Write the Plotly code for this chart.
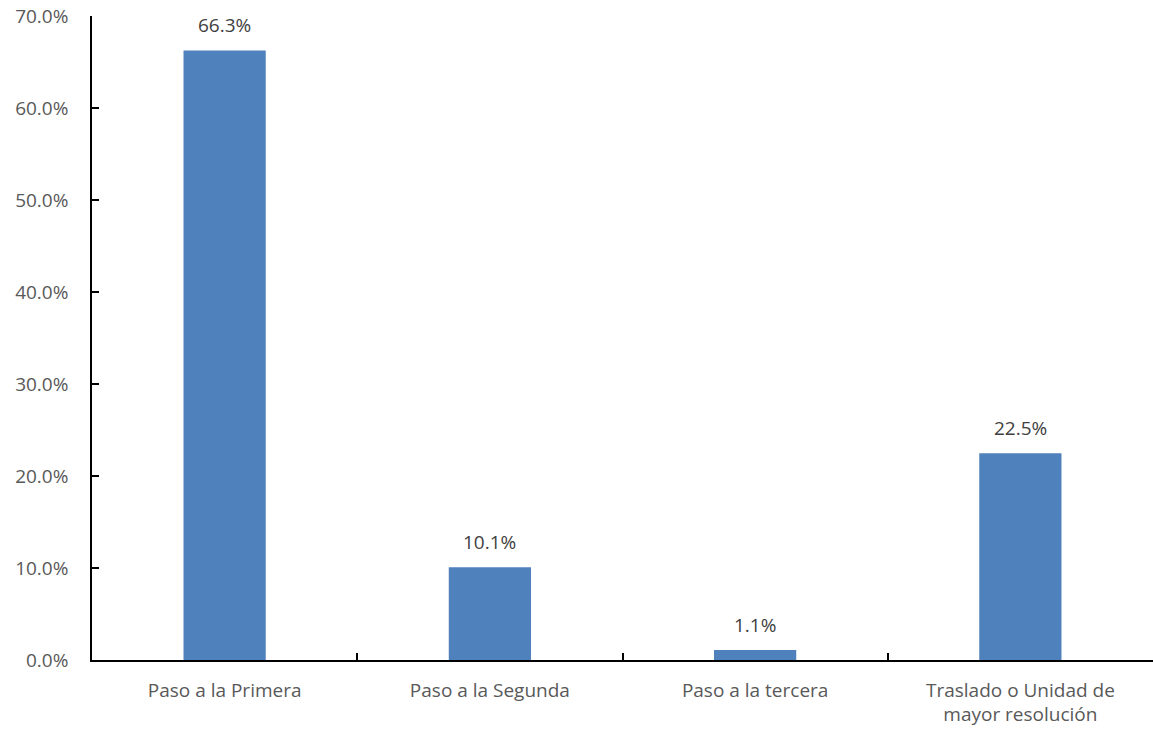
import plotly.graph_objects as go

categories = ["Paso a la Primera", "Paso a la Segunda", "Paso a la tercera",
              "Traslado o Unidad de<br>mayor resolución"]
values = [66.3, 10.1, 1.1, 22.5]
y_ticks = [0, 10, 20, 30, 40, 50, 60, 70]

gray = "#595959"
font = dict(family="Open Sans", size=19, color=gray)

fig = go.Figure(go.Bar(
    x=categories, y=values, width=0.31,
    marker=dict(color="#4F81BD", line=dict(width=0)),
    hoverinfo="skip",
))

for c, v in zip(categories, values):
    fig.add_annotation(
        x=c, y=v, text=f"{v:.1f}%", showarrow=False,
        yanchor="bottom", yshift=10,
        font=dict(family="Open Sans", size=19, color="#404040"),
    )

fig.update_layout(
    width=1153, height=735,
    margin=dict(l=92, r=0, t=16, b=75),
    plot_bgcolor="white", paper_bgcolor="white",
    font=font, showlegend=False,
)
fig.update_xaxes(
    showline=True, linecolor="black", linewidth=1.5,
    ticks="inside", tickson="boundaries", ticklen=7, tickcolor="black", tickwidth=1.5,
    showgrid=False, tickfont=font, ticklabelstandoff=12, automargin=False,
)
fig.update_yaxes(
    range=[0, 70.05], tickvals=y_ticks, ticktext=[f"{v:.1f}%" for v in y_ticks],
    showline=True, linecolor="black", linewidth=1.5,
    ticks="inside", ticklen=7, tickcolor="black", tickwidth=1.5,
    showgrid=False, zeroline=False, tickfont=font, ticklabelstandoff=18,
    ticklabeloverflow="allow", automargin=False,
)

fig.write_html(
    "out.html",
    config={"displayModeBar": False},
    post_script="document.body.style.margin='0';document.body.style.overflow='hidden';",
)
